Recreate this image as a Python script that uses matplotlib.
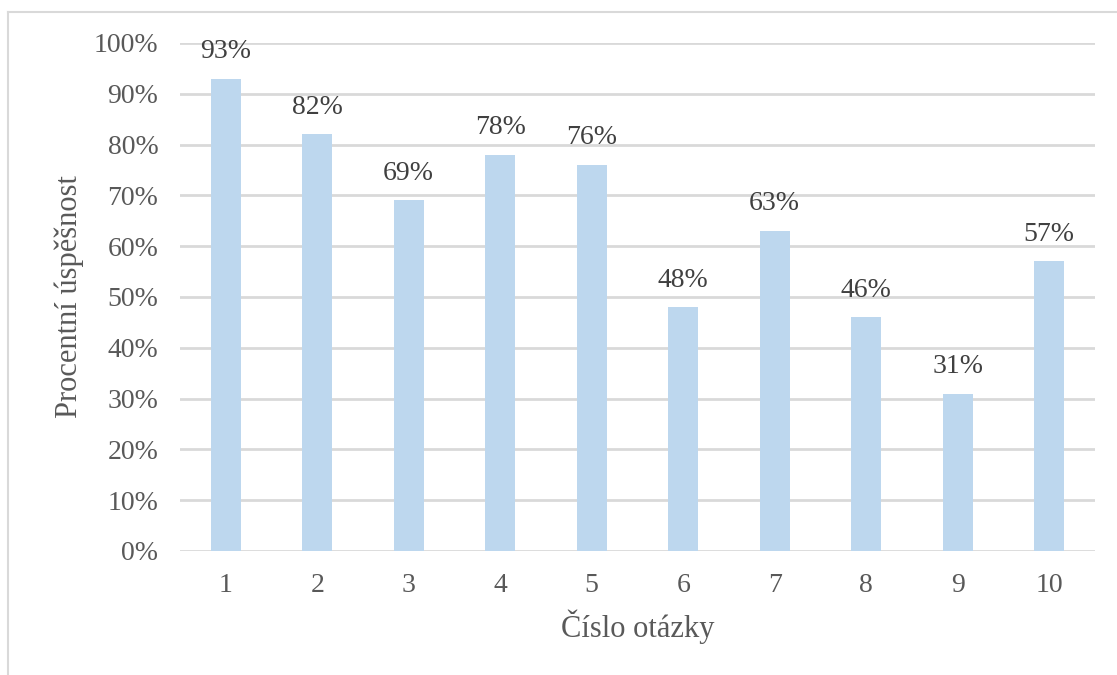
import matplotlib
matplotlib.use("Agg")
import matplotlib.pyplot as plt
from matplotlib.ticker import FuncFormatter
from matplotlib.lines import Line2D

categories = ["1", "2", "3", "4", "5", "6", "7", "8", "9", "10"]
values = [93, 82, 69, 78, 76, 48, 63, 46, 31, 57]
yticks = [0, 10, 20, 30, 40, 50, 60, 70, 80, 90, 100]

plt.rcParams['font.family'] = ['Liberation Serif', 'DejaVu Serif']
text_color = '#595959'

fig = plt.figure(figsize=(11.17, 6.75), dpi=100)
ax = fig.add_axes([180/1117, 1-551/675, (1095-180)/1117, (551-43)/675])

x = list(range(len(categories)))
bars = ax.bar(x, values, width=0.33, color='#BDD7EE', zorder=3)
for xi, v in zip(x, values):
    ax.annotate(f"{v}%", (xi, v), xytext=(0, 10.5), textcoords='offset points',
                ha='center', va='bottom', fontsize=20, color='#404040')

ax.set_xlim(-0.5, len(categories) - 0.5)
ax.set_ylim(0, 100)
ax.set_yticks(yticks)
ax.yaxis.set_major_formatter(FuncFormatter(lambda v, p: f"{int(v)}%"))
ax.set_xticks(x)
ax.set_xticklabels(categories)
ax.tick_params(axis='both', length=0, labelsize=20, colors=text_color)
ax.tick_params(axis='x', pad=16)
ax.tick_params(axis='y', pad=15.5)
ax.grid(axis='y', color='#D9D9D9', linewidth=2, zorder=0)
for s in ax.spines.values():
    s.set_visible(False)
ax.set_xlabel("Číslo otázky", fontsize=22, color=text_color, labelpad=8)
ax.set_ylabel("Procentní úspěšnost", fontsize=22, color=text_color, labelpad=7)

# outer chart border (top and left visible)
fig.add_artist(Line2D([8/1117, 1], [1-12/675, 1-12/675], color='#D9D9D9', linewidth=1.5, transform=fig.transFigure))
fig.add_artist(Line2D([8/1117, 8/1117], [0, 1-12/675], color='#D9D9D9', linewidth=1.5, transform=fig.transFigure))

fig.savefig("out.png", dpi=100)
